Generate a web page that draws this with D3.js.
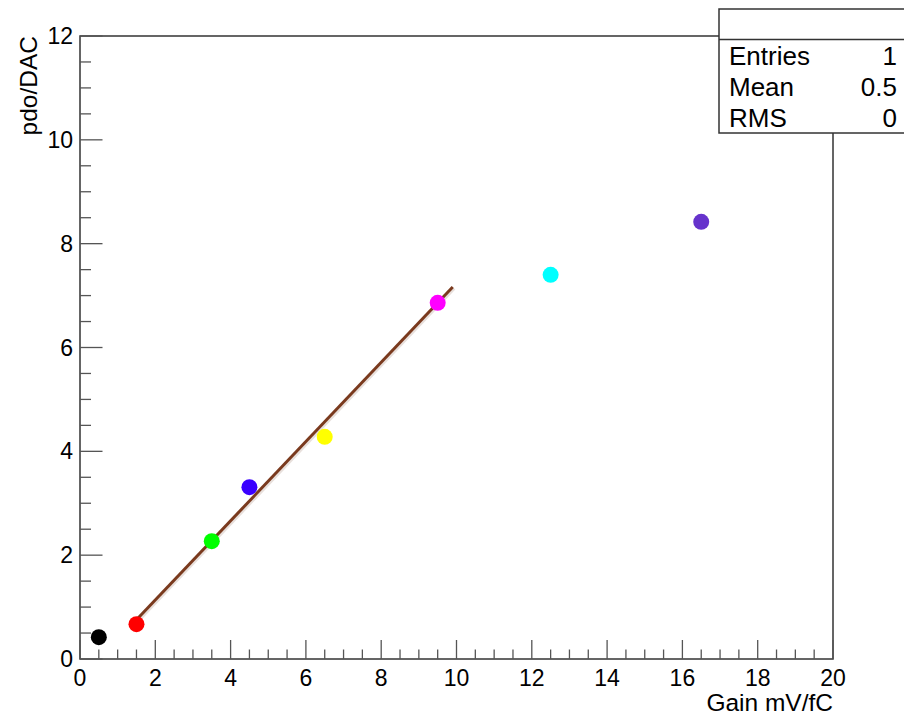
<!DOCTYPE html>
<html>
<head>
<meta charset="utf-8">
<script src="https://cdn.jsdelivr.net/npm/d3@7"></script>
<style>
  body { margin: 0; background: #fff; }
  svg { font-family: "Liberation Sans", Arial, sans-serif; }
</style>
</head>
<body>
<div id="content"></div>
<script>
// measured points
const gain = [0.5, 1.5, 3.5, 4.5, 6.5, 9.5, 12.5, 16.5];
const pdo = [0.42, 0.67, 2.27, 3.31, 4.28, 6.86, 7.40, 8.42];
const colors = ['#000000', '#ff0000', '#00ff00', '#3a00ff', '#ffff00', '#ff00ff', '#00ffff', '#6633cc'];

// linear fit drawn over the points
const fitRange = [1.5, 9.9];
const fitParams = [-0.39, 0.763];

const statLabels = ['Entries', 'Mean', 'RMS'];
const statValues = ['1', '0.5', '0'];

const width = 904;
const height = 715;
const padL = 80, padR = 833, padT = 36, padB = 659;

const svg = d3.select('#content')
    .append('svg')
    .attr('width', width)
    .attr('height', height);

const x = d3.scaleLinear().domain([0, 20]).range([padL, padR]);
const y = d3.scaleLinear().domain([0, 12]).range([padB, padT]);

// frame
svg.append('rect')
    .attr('x', padL)
    .attr('y', padT)
    .attr('width', padR - padL)
    .attr('height', padB - padT)
    .attr('fill', 'none')
    .attr('stroke', '#333')
    .attr('stroke-width', 1.5);

// x axis: ticks pointing up into the frame
const xMajor = d3.range(0, 20.001, 2);
const xMinor = d3.range(0, 20.001, 0.5).filter(v => v % 2 !== 0);
svg.append('g')
    .selectAll('line')
    .data(xMajor.map(v => ({v, len: 19})).concat(xMinor.map(v => ({v, len: 9.5}))))
    .join('line')
    .attr('x1', d => x(d.v))
    .attr('x2', d => x(d.v))
    .attr('y1', padB)
    .attr('y2', d => padB - d.len)
    .attr('stroke', '#555')
    .attr('stroke-width', 1.3);

svg.append('g')
    .selectAll('text')
    .data(xMajor)
    .join('text')
    .attr('x', d => x(d))
    .attr('y', 686)
    .attr('text-anchor', 'middle')
    .attr('font-size', 23)
    .text(d => d);

// y axis
const yMajor = d3.range(0, 12.001, 2);
const yMinor = d3.range(0, 12.001, 0.5).filter(v => v % 2 !== 0);
svg.append('g')
    .selectAll('line')
    .data(yMajor.map(v => ({v, len: 22.5})).concat(yMinor.map(v => ({v, len: 11}))))
    .join('line')
    .attr('x1', padL)
    .attr('x2', d => padL + d.len)
    .attr('y1', d => y(d.v))
    .attr('y2', d => y(d.v))
    .attr('stroke', '#555')
    .attr('stroke-width', 1.3);

svg.append('g')
    .selectAll('text')
    .data(yMajor)
    .join('text')
    .attr('x', 73)
    .attr('y', d => y(d) + 8)
    .attr('text-anchor', 'end')
    .attr('font-size', 23)
    .text(d => d);

// axis titles
svg.append('text')
    .attr('x', padR)
    .attr('y', 711)
    .attr('text-anchor', 'end')
    .attr('font-size', 24.5)
    .text('Gain mV/fC');

svg.append('text')
    .attr('transform', `translate(37, ${padT}) rotate(-90)`)
    .attr('text-anchor', 'end')
    .attr('font-size', 24.5)
    .text('pdo/DAC');

// fit line
const fitLine = fitRange.map(g => [g, fitParams[0] + fitParams[1] * g]);
svg.append('path')
    .datum(fitLine)
    .attr('d', d3.line().x(d => x(d[0]) + 1.5).y(d => y(d[1]) + 1.5))
    .attr('stroke', '#e8e0dc')
    .attr('stroke-width', 3)
    .attr('fill', 'none');
svg.append('path')
    .datum(fitLine)
    .attr('d', d3.line().x(d => x(d[0])).y(d => y(d[1])))
    .attr('stroke', '#7a3a1e')
    .attr('stroke-width', 3)
    .attr('fill', 'none');

// points
svg.append('g')
    .selectAll('circle')
    .data(gain.map((g, i) => ({g, p: pdo[i], c: colors[i]})))
    .join('circle')
    .attr('cx', d => x(d.g))
    .attr('cy', d => y(d.p))
    .attr('r', 8)
    .attr('fill', d => d.c);

// stats box
const box = svg.append('g');
box.append('rect')
    .attr('x', 719)
    .attr('y', 9)
    .attr('width', 200)
    .attr('height', 124)
    .attr('fill', '#fff')
    .attr('stroke', '#333')
    .attr('stroke-width', 1.5);
box.append('line')
    .attr('x1', 719)
    .attr('x2', 904)
    .attr('y1', 39.5)
    .attr('y2', 39.5)
    .attr('stroke', '#333')
    .attr('stroke-width', 1.3);

box.selectAll('text.lab')
    .data(statLabels)
    .join('text')
    .attr('class', 'lab')
    .attr('x', 729)
    .attr('y', (d, i) => 65 + i * 31)
    .attr('font-size', 26)
    .text(d => d);

box.selectAll('text.val')
    .data(statValues)
    .join('text')
    .attr('class', 'val')
    .attr('x', 897)
    .attr('y', (d, i) => 65 + i * 31)
    .attr('text-anchor', 'end')
    .attr('font-size', 26)
    .text(d => d);
</script>
</body>
</html>
